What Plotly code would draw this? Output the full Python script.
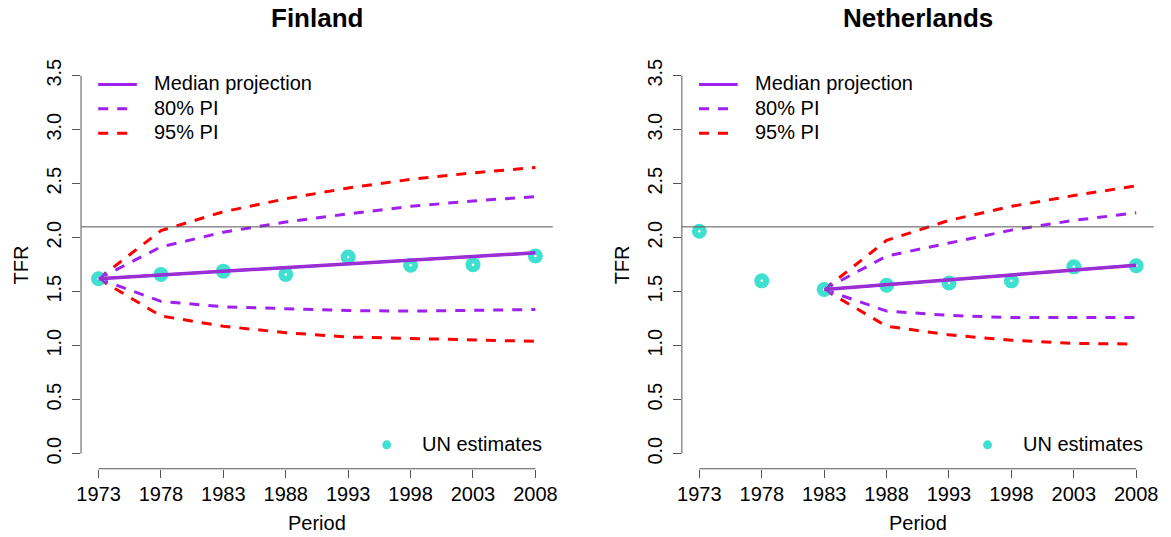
import plotly.graph_objects as go

# ---------------- data ----------------
periods = [1973, 1978, 1983, 1988, 1993, 1998, 2003, 2008]
y_ticks = [0.0, 0.5, 1.0, 1.5, 2.0, 2.5, 3.0, 3.5]
y_tick_labels = ["0.0", "0.5", "1.0", "1.5", "2.0", "2.5", "3.0", "3.5"]
replacement_tfr = 2.1

fin_un = [1.62, 1.66, 1.69, 1.66, 1.82, 1.745, 1.75, 1.83]
fin_proj_periods = [1973, 1978, 1983, 1988, 1993, 1998, 2003, 2008]
fin_median = [1.62, 1.655, 1.69, 1.72, 1.755, 1.79, 1.825, 1.86]
fin_80_up = [1.62, 1.915, 2.05, 2.145, 2.22, 2.29, 2.34, 2.38]
fin_80_lo = [1.62, 1.41, 1.36, 1.34, 1.325, 1.32, 1.325, 1.335]
fin_95_up = [1.62, 2.065, 2.24, 2.36, 2.46, 2.54, 2.60, 2.65]
fin_95_lo = [1.62, 1.275, 1.18, 1.12, 1.08, 1.065, 1.055, 1.04]

nld_un = [2.06, 1.60, 1.52, 1.56, 1.58, 1.60, 1.73, 1.74]
nld_proj_periods = [1983, 1988, 1993, 1998, 2003, 2008]
nld_median = [1.52, 1.565, 1.61, 1.655, 1.70, 1.745]
nld_80_up = [1.52, 1.83, 1.95, 2.07, 2.16, 2.23]
nld_80_lo = [1.52, 1.32, 1.28, 1.26, 1.26, 1.26]
nld_95_up = [1.52, 1.975, 2.16, 2.29, 2.39, 2.48]
nld_95_lo = [1.52, 1.18, 1.10, 1.05, 1.02, 1.015]

countries = ["Finland", "Netherlands"]

# ---------------- styles ----------------
W, H = 1171, 537
FONT = "Liberation Sans, Arial, Helvetica, sans-serif"
PURPLE = "#A020F0"
ARROW = "#9932CC"
RED = "#FF0000"
TURQ = "#40E0D0"
AXC = "#555555"
DASH = "10px,9px"


def px_x(p):
    return p / W


def px_y(p):
    return (H - p) / H


panel_offset = 606
x_domains = [[px_x(76.7), px_x(552.6)], [px_x(76.7 + panel_offset), px_x(552.6 + panel_offset)]]
y_domain = [px_y(468.5), px_y(58.8)]

fig = go.Figure()

panels = [
    dict(un=fin_un, pp=fin_proj_periods, med=fin_median, u80=fin_80_up, l80=fin_80_lo,
         u95=fin_95_up, l95=fin_95_lo),
    dict(un=nld_un, pp=nld_proj_periods, med=nld_median, u80=nld_80_up, l80=nld_80_lo,
         u95=nld_95_up, l95=nld_95_lo),
]

shapes = []
annotations = []

for i, pnl in enumerate(panels):
    xa = "x" if i == 0 else "x2"
    ya = "y" if i == 0 else "y2"
    # prediction intervals
    for key, col in [("u95", RED), ("l95", RED), ("u80", PURPLE), ("l80", PURPLE)]:
        fig.add_trace(go.Scatter(x=pnl["pp"], y=pnl[key], mode="lines",
                                 line=dict(color=col, width=3, dash=DASH),
                                 showlegend=False, hoverinfo="skip", xaxis=xa, yaxis=ya))
    # UN estimates
    fig.add_trace(go.Scatter(x=periods, y=pnl["un"], mode="markers",
                             marker=dict(color=TURQ, size=15, line=dict(width=0)),
                             showlegend=False, xaxis=xa, yaxis=ya))
    fig.add_trace(go.Scatter(x=periods, y=pnl["un"], mode="markers",
                             marker=dict(color="white", size=2.5, line=dict(width=0)),
                             showlegend=False, hoverinfo="skip", xaxis=xa, yaxis=ya))
    # median
    fig.add_trace(go.Scatter(x=pnl["pp"], y=pnl["med"], mode="lines",
                             line=dict(color=PURPLE, width=3.5),
                             showlegend=False, xaxis=xa, yaxis=ya))
    # arrow from last median back to the start
    annotations.append(dict(x=pnl["pp"][0], y=pnl["med"][0], ax=pnl["pp"][-1], ay=pnl["med"][-1],
                            xref=xa, yref=ya, axref=xa, ayref=ya, text="", showarrow=True,
                            arrowhead=4, arrowsize=0.9, arrowwidth=2.5, arrowcolor=ARROW,
                            standoff=0, startstandoff=0))

    xd = "x domain" if i == 0 else "x2 domain"
    yd = "y domain" if i == 0 else "y2 domain"
    # axis lines (R style: from first to last tick)
    shapes.append(dict(type="line", xref=xa, yref=yd, x0=periods[0], x1=periods[-1], y0=0, y1=0,
                       line=dict(color=AXC, width=1)))
    shapes.append(dict(type="line", xref=xd, yref=ya, x0=0, x1=0, y0=y_ticks[0], y1=y_ticks[-1],
                       line=dict(color=AXC, width=1)))
    # replacement level line
    shapes.append(dict(type="line", xref=xd, yref=ya, x0=0, x1=1, y0=replacement_tfr, y1=replacement_tfr,
                       line=dict(color=AXC, width=1)))

    off = i * panel_offset
    # titles
    annotations.append(dict(text=countries[i], x=sum(x_domains[i]) / 2, y=px_y(16), xref="paper", yref="paper",
                            showarrow=False, xanchor="center", yanchor="middle",
                            font=dict(family=FONT, size=26, color="black", weight="bold")))
    annotations.append(dict(text="Period", x=sum(x_domains[i]) / 2, y=px_y(523), xref="paper", yref="paper",
                            showarrow=False, xanchor="center", yanchor="middle",
                            font=dict(family=FONT, size=20, color="black")))
    annotations.append(dict(text="TFR", x=px_x(16 + off), y=sum(y_domain) / 2, xref="paper", yref="paper",
                            showarrow=False, xanchor="center", yanchor="middle", textangle=-90,
                            font=dict(family=FONT, size=20, color="black")))
    # legend (top-left)
    leg_rows = [("Median projection", PURPLE, "solid", 82.7), ("80% PI", PURPLE, DASH, 107.2),
                ("95% PI", RED, DASH, 131.7)]
    for label, col, dash, yy in leg_rows:
        x1 = 133 if dash == "solid" else 129
        shapes.append(dict(type="line", xref="paper", yref="paper", x0=px_x(94 + off), x1=px_x(x1 + off),
                           y0=px_y(yy), y1=px_y(yy), line=dict(color=col, width=3, dash=dash)))
        annotations.append(dict(text=label, x=px_x(148 + off), y=px_y(yy - 1), xref="paper", yref="paper",
                                showarrow=False, xanchor="left", yanchor="middle",
                                font=dict(family=FONT, size=20, color="black")))
    # legend (bottom-right)
    cx, cy, r = 385 + off, 444.5, 4.5
    shapes.append(dict(type="circle", xref="paper", yref="paper", x0=px_x(cx - r), x1=px_x(cx + r),
                       y0=px_y(cy + r), y1=px_y(cy - r), fillcolor=TURQ, line=dict(width=0)))
    annotations.append(dict(text="UN estimates", x=px_x(419 + off), y=px_y(cy - 1), xref="paper", yref="paper",
                            showarrow=False, xanchor="left", yanchor="middle",
                            font=dict(family=FONT, size=20, color="black")))

axis_common = dict(showgrid=False, zeroline=False, showline=False, ticks="outside", ticklen=8,
                   tickcolor=AXC, tickwidth=1, tickfont=dict(family=FONT, size=20, color="black"))

fig.update_layout(
    width=W, height=H, margin=dict(l=0, r=0, t=0, b=0),
    paper_bgcolor="white", plot_bgcolor="white", showlegend=False,
    xaxis=dict(domain=x_domains[0], range=[1971.6, 2009.4], tickvals=periods, anchor="y",
               ticklabelstandoff=-1, **axis_common),
    yaxis=dict(domain=y_domain, range=[-0.14, 3.64], tickvals=y_ticks, ticktext=y_tick_labels,
               tickangle=-90, anchor="x", ticklabelstandoff=3, **axis_common),
    xaxis2=dict(domain=x_domains[1], range=[1971.6, 2009.4], tickvals=periods, anchor="y2",
                ticklabelstandoff=-1, **axis_common),
    yaxis2=dict(domain=y_domain, range=[-0.14, 3.64], tickvals=y_ticks, ticktext=y_tick_labels,
                tickangle=-90, anchor="x2", ticklabelstandoff=3, **axis_common),
    shapes=shapes, annotations=annotations,
)

fig.write_html("out.html")
